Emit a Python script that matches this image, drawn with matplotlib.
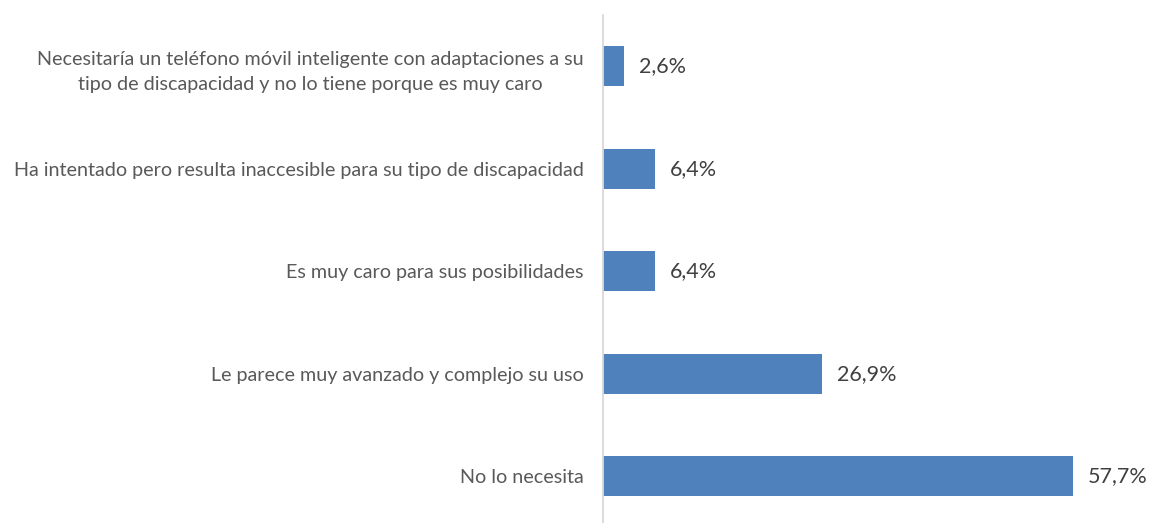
import matplotlib.pyplot as plt

# survey answers, bottom to top as drawn
categorias = [
    "No lo necesita",
    "Le parece muy avanzado y complejo su uso",
    "Es muy caro para sus posibilidades",
    "Ha intentado pero resulta inaccesible para su tipo de discapacidad",
    "Necesitaría un teléfono móvil inteligente con adaptaciones a su\ntipo de discapacidad y no lo tiene porque es muy caro",
]
valores = [57.7, 26.9, 6.4, 6.4, 2.6]
etiquetas = ["57,7%", "26,9%", "6,4%", "6,4%", "2,6%"]

plt.rcParams['font.family'] = ['Lato', 'DejaVu Sans']

fig = plt.figure(figsize=(11.51, 5.23), dpi=100)
ax = fig.add_axes([603 / 1151, -4.5 / 523, 548 / 1151, 512.5 / 523])

y = range(len(categorias))
ax.barh(y, valores, height=0.39, color='#4F81BD')

for yi, v, lab in zip(y, valores, etiquetas):
    ax.text(v + 1.8, yi, lab, va='center', ha='left', fontsize=15.5, color='#404040')

ax.set_xlim(0, 67.3)
ax.set_ylim(-0.5, len(categorias) - 0.5)
ax.set_yticks(list(y))
ax.set_yticklabels(categorias, fontsize=14.25, color='#595959', linespacing=1.6,
                   ha='right', multialignment='center')
ax.tick_params(axis='y', length=0, pad=14)
ax.set_xticks([])

for s in ['top', 'right', 'bottom']:
    ax.spines[s].set_visible(False)
ax.spines['left'].set_color('#D9D9D9')
ax.spines['left'].set_linewidth(1.3)

fig.savefig('out.png', dpi=100)
